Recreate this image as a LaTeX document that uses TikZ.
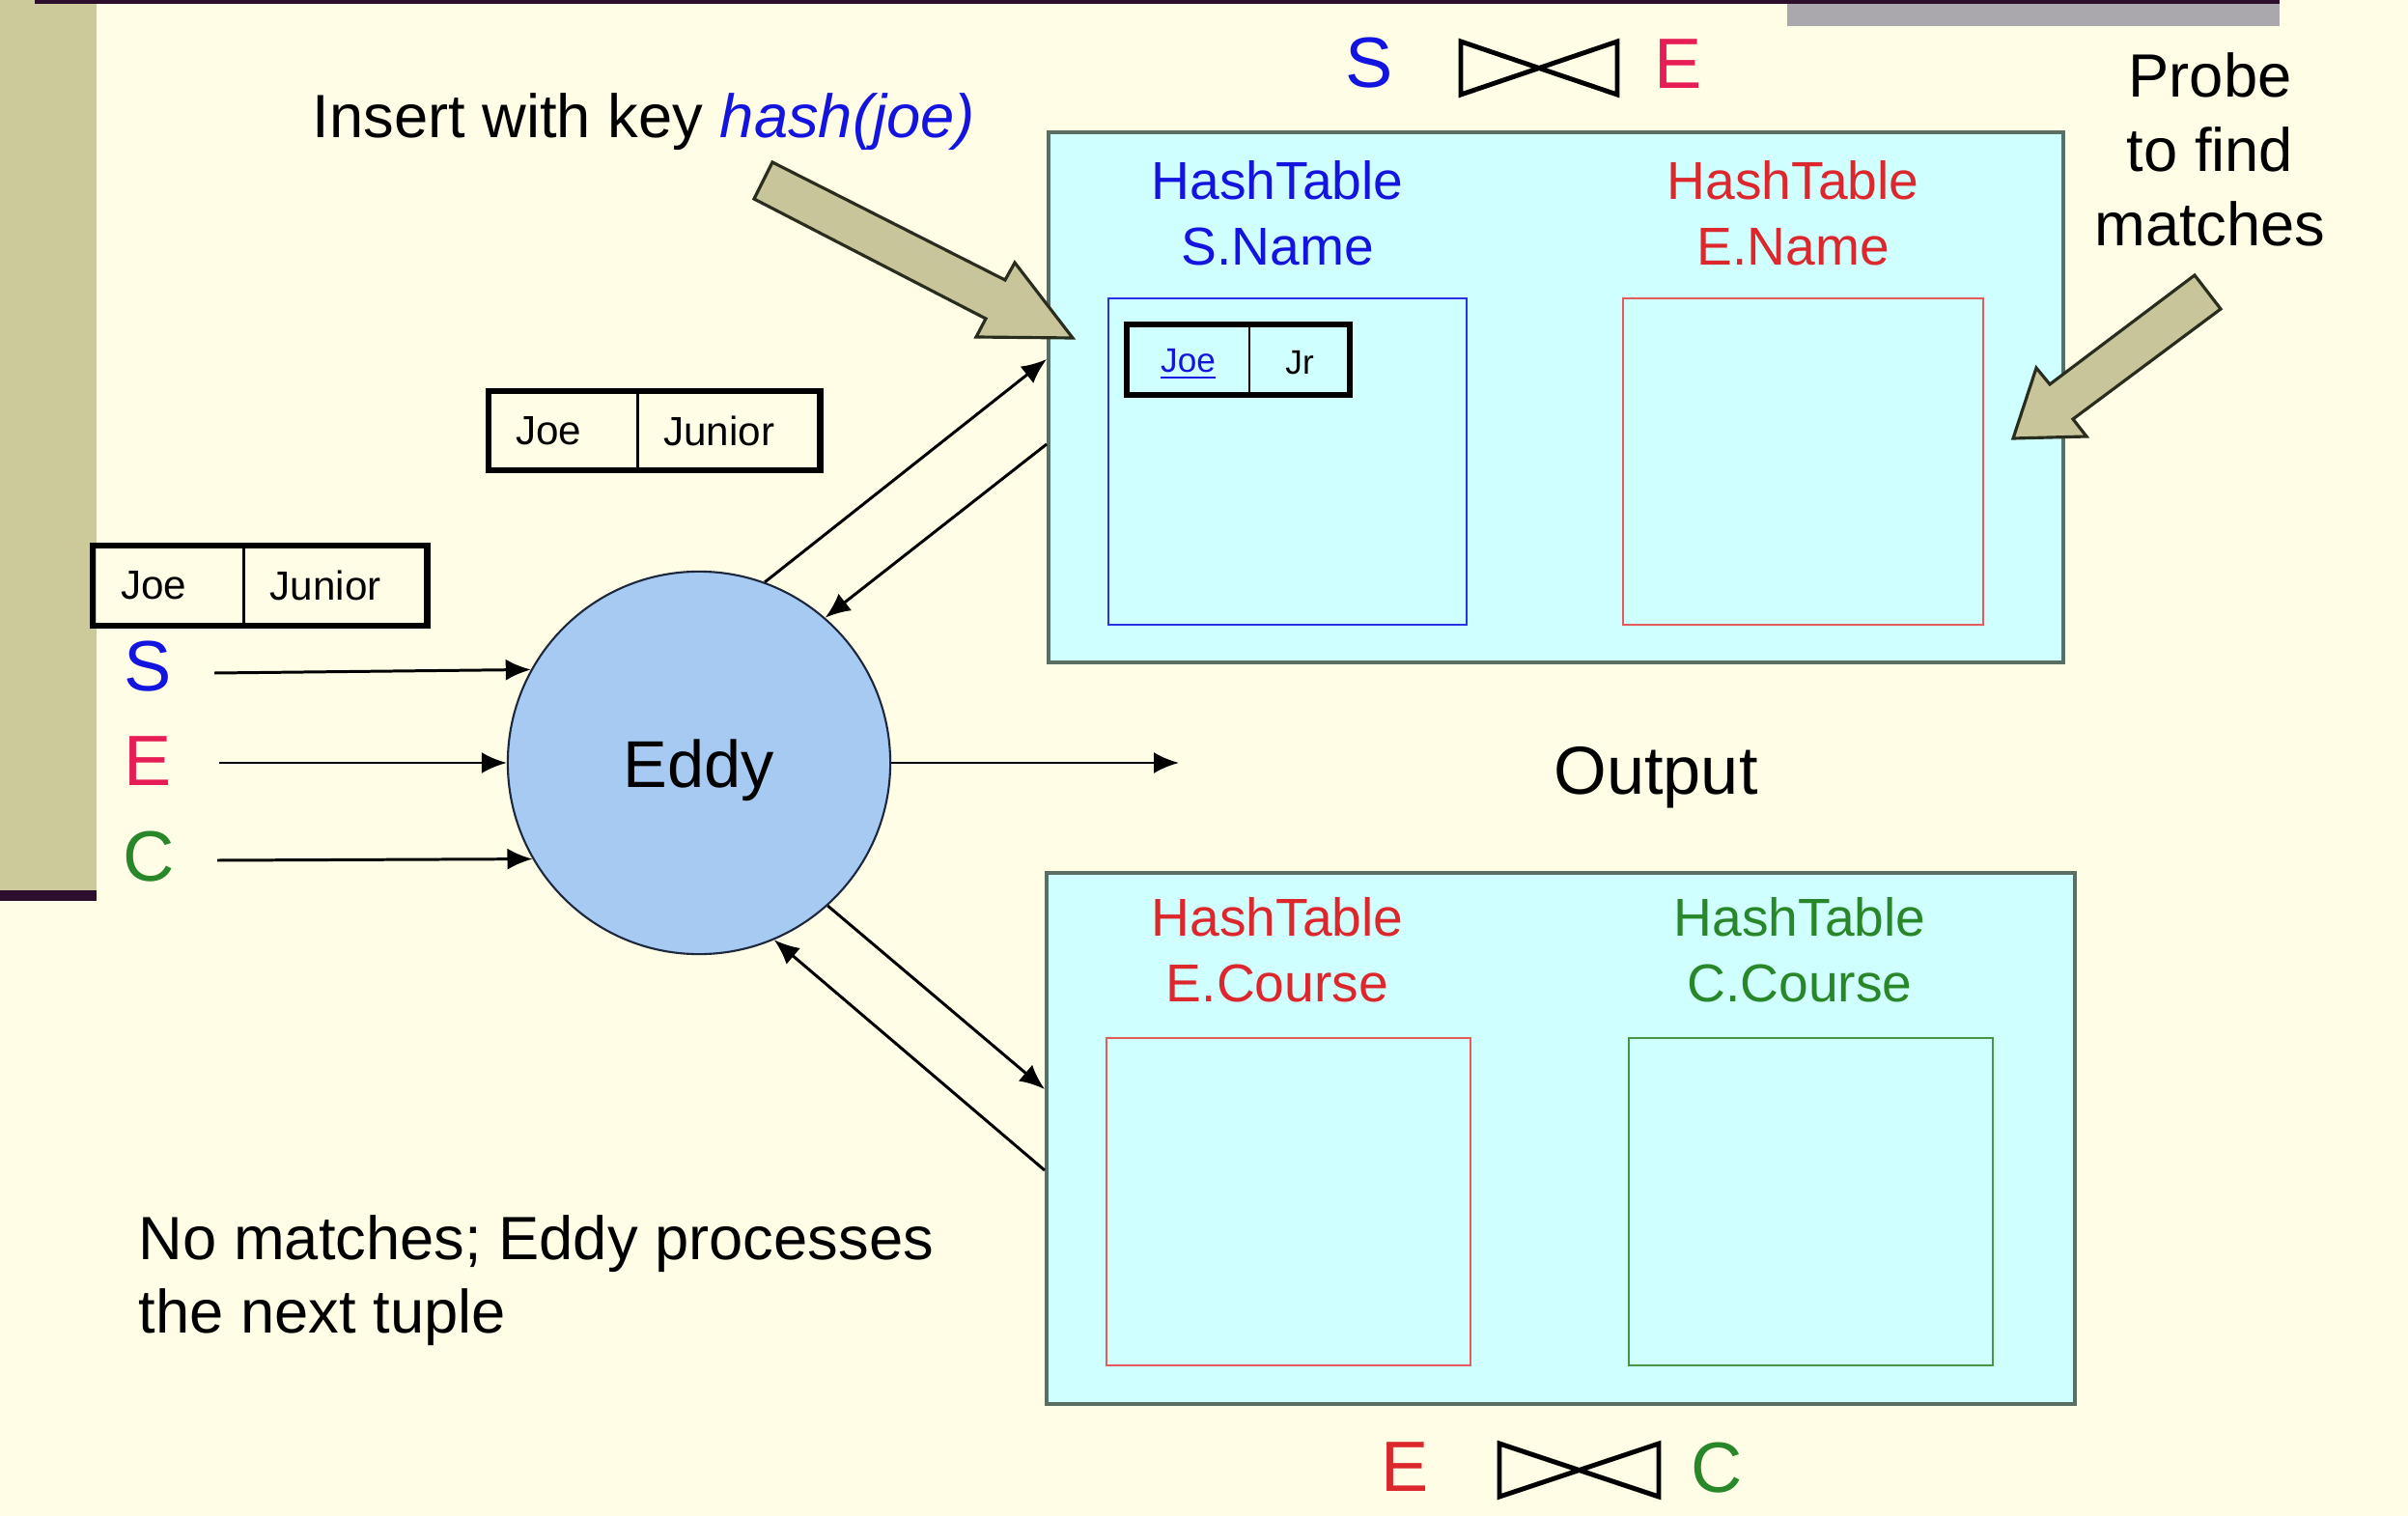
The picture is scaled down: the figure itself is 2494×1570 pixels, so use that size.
\documentclass[tikz,border=0pt]{standalone}
\usepackage{fontspec}
\setmainfont{Liberation Sans}
\usetikzlibrary{arrows.meta,fit}
\definecolor{bgc}{RGB}{255,253,230}
\definecolor{barc}{RGB}{204,202,155}
\definecolor{darkl}{RGB}{45,15,45}
\definecolor{grayb}{RGB}{170,168,172}
\definecolor{cyanf}{RGB}{208,255,255}
\definecolor{boxedge}{RGB}{90,110,100}
\definecolor{eddyf}{RGB}{166,202,242}
\definecolor{eddyedge}{RGB}{30,40,60}
\definecolor{khaki}{RGB}{200,197,155}
\definecolor{khakiedge}{RGB}{40,45,30}
\definecolor{tblue}{RGB}{20,20,225}
\definecolor{epink}{RGB}{230,30,85}
\definecolor{tred}{RGB}{220,40,45}
\definecolor{tgreen}{RGB}{40,135,40}
\definecolor{htblue}{RGB}{40,50,230}
\definecolor{htred}{RGB}{230,90,90}
\definecolor{htgreen}{RGB}{70,150,70}
\begin{document}
\begin{tikzpicture}[x=0.01cm,y=-0.01cm,
  arr/.style={draw=black, line width=0.85pt, -{Latex[length=0.26cm,width=0.22cm]}},
  bigbox/.style={draw=boxedge, fill=cyanf, line width=1.1pt, inner sep=0, anchor=north west},
  htbox/.style={line width=0.6pt, inner sep=0, anchor=north west},
  httitle/.style={align=center, inner sep=0, font=\fontsize{15.7}{19.3}\selectfont},
  cell/.style={draw=black, line width=0.8pt, inner sep=0, outer sep=0, anchor=north west},
  tupfr/.style={draw=black, line width=1.9pt, inner sep=0},
  tuptext/.style={font=\fontsize{12}{14}\selectfont},
  smalltext/.style={font=\fontsize{10}{12}\selectfont},
  blockarr/.style={fill=khaki, draw=khakiedge, line width=0.9pt, line join=miter},
  bowtie/.style={draw=black, line width=1.4pt, line join=miter},
  lbl/.style={inner sep=0, anchor=base, font=\fontsize{21}{25}\selectfont}]
\useasboundingbox (0,0) rectangle (2494,1570);
% background and slide decorations
\fill[bgc] (0,0) rectangle (2494,1570);
\fill[barc] (0,0) rectangle (100,922);
\fill[darkl] (0,922) rectangle (100,933);
\fill[grayb] (1851,3) rectangle (2361,27);
\fill[darkl] (36,0) rectangle (2361,4);

% big boxes
\node[bigbox, minimum width=10.50cm, minimum height=5.49cm] (topbox) at (1084,135) {};
\node[bigbox, minimum width=10.64cm, minimum height=5.50cm] (botbox) at (1082,902) {};
% hash tables
\node[htbox, draw=htblue, minimum width=3.71cm, minimum height=3.38cm] (hsname) at (1147,308) {};
\node[htbox, draw=htred, minimum width=3.73cm, minimum height=3.38cm] (hename) at (1680,308) {};
\node[htbox, draw=htred, minimum width=3.77cm, minimum height=3.39cm] (hecourse) at (1145,1074) {};
\node[htbox, draw=htgreen, minimum width=3.77cm, minimum height=3.39cm] (hccourse) at (1686,1074) {};
\node[httitle, text=tblue] (tsname) at (1323,221) {HashTable\\S.Name};
\node[httitle, text=tred] (tename) at (1857,221) {HashTable\\E.Name};
\node[httitle, text=tred] (tecourse) at (1323,984) {HashTable\\E.Course};
\node[httitle, text=tgreen] (tccourse) at (1864,984) {HashTable\\C.Course};

% inner tuple
\node[cell, smalltext, minimum width=1.27cm, minimum height=0.73cm] (ijoe) at (1167,336) {\raisebox{-0.05cm}[\height][\depth]{\textcolor{tblue}{\underline{Joe}}}};
\node[cell, smalltext, minimum width=1.04cm, minimum height=0.73cm] (ijr) at (ijoe.north east) {\raisebox{-0.03cm}[\height][\depth]{Jr}};
\node[tupfr, fit=(ijoe)(ijr)] (ituple) {};

% tuple 1
\node[cell, tuptext, minimum width=1.54cm, minimum height=0.82cm] (t1joe) at (506,405) {Joe\hspace*{0.3cm}};
\node[cell, tuptext, minimum width=1.89cm, minimum height=0.82cm] (t1jun) at (t1joe.north east) {Junior\hspace*{0.2cm}};
\node[tupfr, fit=(t1joe)(t1jun)] (tuple1) {};
% tuple 2
\node[cell, tuptext, minimum width=1.56cm, minimum height=0.83cm] (t2joe) at (96,565) {Joe\hspace*{0.3cm}};
\node[cell, tuptext, minimum width=1.90cm, minimum height=0.83cm] (t2jun) at (t2joe.north east) {Junior\hspace*{0.2cm}};
\node[tupfr, fit=(t2joe)(t2jun)] (tuple2) {};

% eddy
\node[circle, draw=eddyedge, fill=eddyf, line width=0.6pt, minimum size=3.96cm, inner sep=0,
      font=\fontsize{19.5}{23}\selectfont] (eddy) at (724,790) {\raisebox{-0.08cm}[\height][\depth]{Eddy}};

% stream labels
\node[lbl, text=tblue] (sl) at (153,715) {S};
\node[lbl, text=epink] (el) at (153,813) {E};
\node[lbl, text=tgreen] (cl) at (154,912) {C};
\coordinate (sst) at (222,697);
\coordinate (est) at (227,790);
\coordinate (cst) at (225,891);
\draw[arr] (sst) -- (eddy.151);
\draw[arr] (est) -- (eddy.west);
\draw[arr] (cst) -- (eddy.210);

% output
\coordinate (oend) at (1221,790);
\draw[arr] (eddy.east) -- (oend);
\node[inner sep=0, font=\fontsize{20}{24}\selectfont] (output) at (1715,805) {Output};

% eddy <-> boxes
\coordinate (ta) at (0,372);
\coordinate (tb) at (0,460);
\coordinate (ba) at (0,1128);
\coordinate (bb) at (0,1212);
\draw[arr] (eddy.70) -- (topbox.west |- ta);
\draw[arr] (topbox.west |- tb) -- (eddy.49);
\draw[arr] (eddy.-48) -- (botbox.west |- ba);
\draw[arr] (botbox.west |- bb) -- (eddy.-67);

% annotations
\node[anchor=base west, inner sep=0, font=\fontsize{18}{21.6}\selectfont] (insert) at (323,143)
  {Insert with key \textcolor{tblue}{\textit{hash(joe)}}};
\node[align=center, inner sep=0, font=\fontsize{18}{21.9}\selectfont] (probe) at (2289,155)
  {Probe\\to find\\matches};
\node[align=left, anchor=north west, inner sep=0, font=\fontsize{18}{21.6}\selectfont] (nomatch) at (143,1258)
  {No matches; Eddy processes\\the next tuple};

% block arrows
\draw[blockarr] (800,168) -- (1041,290) -- (1051,272) -- (1111,350) -- (1011,349) -- (1021,330) -- (781,206) -- cycle;
\draw[blockarr] (2273,285) -- (2300,320) -- (2147,434) -- (2161,452) -- (2085,454) -- (2109,381) -- (2123,398) -- cycle;

% join symbols
\node[lbl, text=tblue] (js) at (1418,91) {S};
\draw[bowtie] (1513,43) -- (1675,98) -- (1675,43) -- (1513,98) -- cycle;
\node[lbl, text=epink] (je) at (1738,92) {E};
\node[lbl, text=tred] (je2) at (1455,1544) {E};
\draw[bowtie] (1553,1495) -- (1718,1550) -- (1718,1495) -- (1553,1550) -- cycle;
\node[lbl, text=tgreen] (jc) at (1778,1545) {C};
\end{tikzpicture}
\end{document}
